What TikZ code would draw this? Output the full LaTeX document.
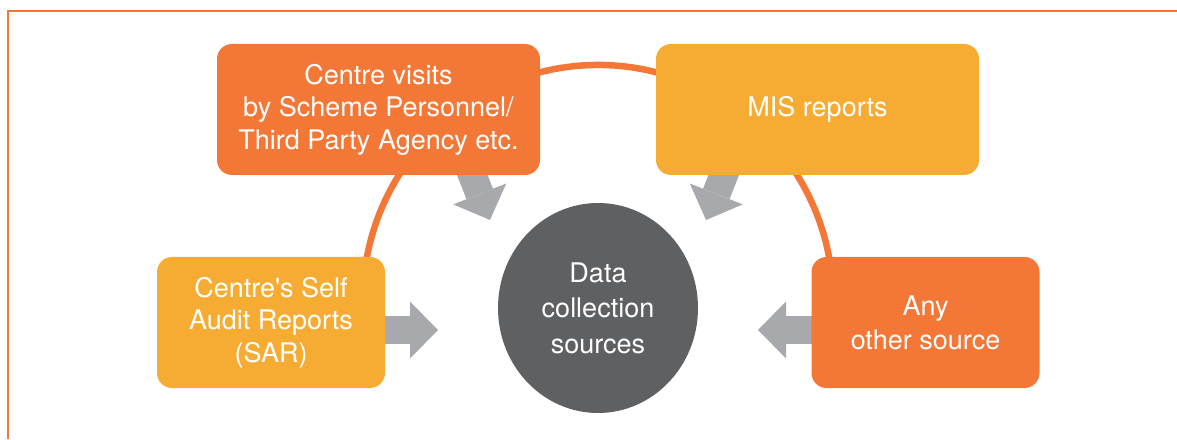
\documentclass[tikz,border=0pt]{standalone}
\usepackage{fontspec}
\setmainfont{TeX Gyre Heros}
\usetikzlibrary{arrows.meta,backgrounds,positioning,shapes.geometric}
\definecolor{dcorange}{HTML}{F37736}
\definecolor{dcyellow}{HTML}{F6AC33}
\definecolor{dcgrey}{HTML}{5F6062}
\definecolor{dcarrow}{HTML}{A7A9AC}

\begin{document}
\begin{tikzpicture}[x=1pt,y=1pt,
  box/.style={rounded corners=15pt,minimum width=323pt,minimum height=131pt,inner sep=0pt,
    text=white,align=center,font=\fontsize{27}{32.5}\selectfont},
  smallbox/.style={box,minimum width=228pt},
  fat/.style={dcarrow,line width=28.5pt,-{Triangle[length=28pt,width=57pt,line width=0pt]}},
  ring/.style={dcorange,line width=6.5pt}]
\useasboundingbox (0,0) rectangle (1177,439);
\draw[dcorange,line width=2pt] (8,0) |- (1177,428);
\node[box,fill=dcorange] (visits) at (378.5,329.5) {Centre visits\\by Scheme Personnel/\\Third Party Agency etc.};
\node[box,fill=dcyellow] (mis) at (817.5,329.5) {MIS reports};
\node[smallbox,fill=dcyellow] (sar) at (271,116.5) {Centre\textquotesingle s Self\\Audit Reports\\(SAR)};
\node[smallbox,fill=dcorange] (other) at (925.5,116.5) {Any\\[1.5pt]other source};
\node[ellipse,fill=dcgrey,minimum width=200pt,minimum height=210pt,inner sep=0pt,
  text=white,align=center,font=\fontsize{27}{35.5}\selectfont] (data) at (598,131) {Data\\collection\\sources};
\coordinate (c) at (598,139);
\coordinate (tipv) at (490,219);
\coordinate (tipm) at (706,219);
\coordinate (tips) at (438,109);
\coordinate (tipo) at (758,109);
\begin{scope}[on background layer]
\draw[ring] ([shift={(195:235pt)}]c) arc[start angle=195,end angle=-15,radius=235pt];
\draw[fat,shorten <=-15pt] (visits.-35) -- (tipv);
\draw[fat,shorten <=-15pt] (mis.-145) -- (tipm);
\draw[fat,shorten <=-5pt] (sar.east |- tips) -- (tips);
\draw[fat,shorten <=-5pt] (other.west |- tipo) -- (tipo);
\end{scope}
\end{tikzpicture}
\end{document}
